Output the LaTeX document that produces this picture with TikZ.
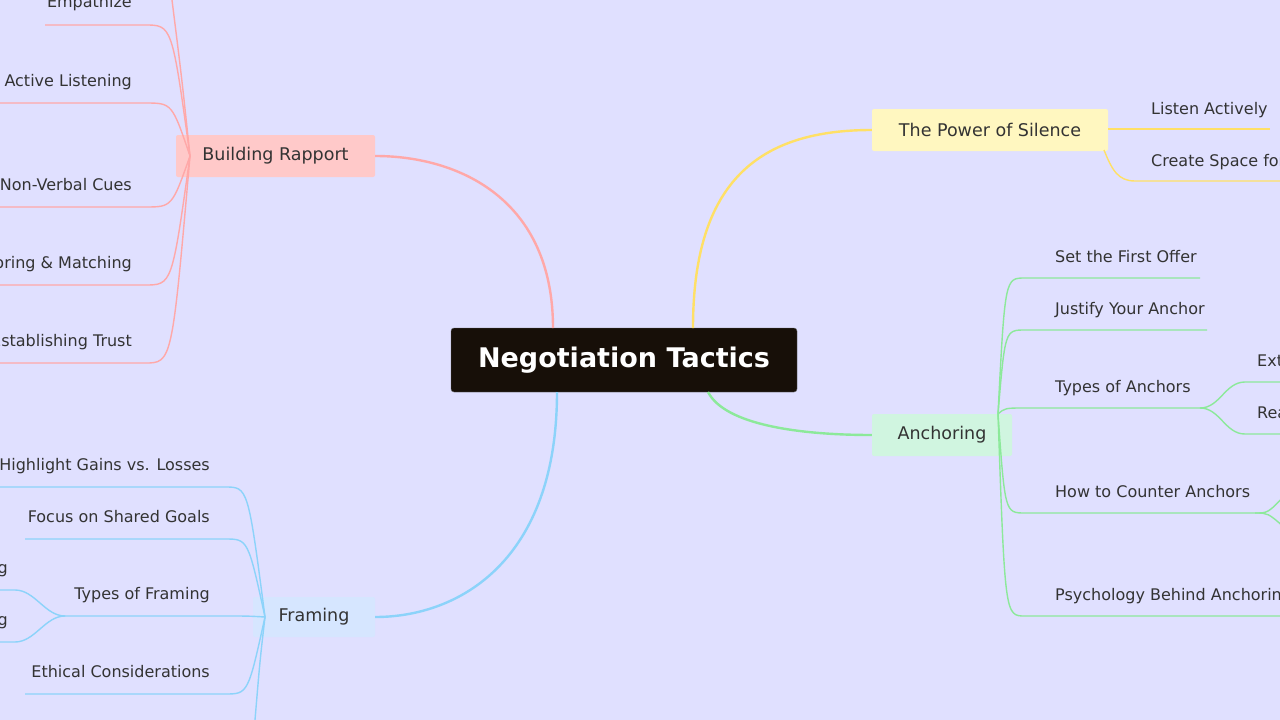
\documentclass[tikz,border=0pt]{standalone}
\usepackage{fontspec}
\setmainfont{DejaVu Sans}
\definecolor{bgc}{HTML}{E0E0FF}
\definecolor{rapc}{HTML}{FFA8A8}
\definecolor{rapf}{HTML}{FFC9C9}
\definecolor{frac}{HTML}{8CD3FA}
\definecolor{fraf}{HTML}{D6E6FF}
\definecolor{silc}{HTML}{FFE066}
\definecolor{silf}{HTML}{FFF7C0}
\definecolor{ancc}{HTML}{8CE99A}
\definecolor{ancf}{HTML}{D0F5E0}
\definecolor{txtc}{HTML}{333333}
\tikzset{
  topic/.style={rectangle, rounded corners=2pt, minimum height=42pt, inner xsep=0pt,
    font=\fontsize{17.5}{20}\selectfont, text=txtc},
  leaf/.style={inner sep=0pt, font=\fontsize{16}{18}\selectfont, text=txtc},
  branch/.style={line width=2.4pt},
  twig/.style={line width=1.4pt}
}
\begin{document}
\begin{tikzpicture}[x=1pt,y=-1pt]
\fill[bgc] (0,0) rectangle (1280,720);
\useasboundingbox (0,0) rectangle (1280,720);

\node[rectangle, rounded corners=3pt, fill=black!88!brown, draw=black!60, minimum width=346pt,
  minimum height=64pt, text=white, font=\bfseries\fontsize{27}{30}\selectfont] (nt) at (624,360) {Negotiation Tactics};

\node[topic, fill=rapf, minimum width=199pt] (br) at (275.5,156) {Building Rapport};
\node[topic, fill=fraf, minimum width=122pt, minimum height=40pt] (fr) at (314,617) {Framing};
\node[topic, fill=silf, minimum width=236pt] (ps) at (990,130) {The Power of Silence};
\node[topic, fill=ancf, minimum width=140pt] (an) at (942,435) {Anchoring};

\draw[branch, rapc] (553,328) .. controls (553,200) and (460,156) .. (br.east);
\draw[branch, frac] (557,392) .. controls (557,560) and (460,617) .. (fr.east);
\draw[branch, silc] (693,328) .. controls (693,180) and (760,130) .. (ps.west);
\draw[branch, ancc] (708,392) .. controls (725,425) and (800,435) .. (an.west);

% building rapport
\coordinate (brs) at (190,156);
\foreach \y/\xa/\t [count=\i] in {25/45/Empathize, 103/0/Active Listening, 207/0/Non-Verbal Cues,
    285/0/Mirroring \& Matching, 363/0/Establishing Trust}{
  \node[leaf, anchor=base east] (br\i) at (132,\y-17) {\t};
  \draw[twig, rapc] (brs) .. controls (172,\y) and (172,\y) .. (145,\y) -- (\xa,\y);
}
\draw[twig, rapc] (brs) .. controls (182,80) .. (172,0);

% framing
\coordinate (frs) at (265,617);
\foreach \y/\xa/\t [count=\i] in {487/0/Highlight Gains vs. Losses, 539/25/Focus on Shared Goals,
    616/65/Types of Framing, 694/25/Ethical Considerations}{
  \node[leaf, anchor=base east] (fr\i) at (210,\y-17) {\t};
  \draw[twig, frac] (frs) .. controls (248,\y) and (248,\y) .. (225,\y) -- (\xa,\y);
}
\draw[twig, frac] (frs) .. controls (260,660) .. (255,720);
\coordinate (tfs) at (65,616);
\foreach \y/\t [count=\i] in {590/Reframing, 642/Anchoring}{
  \node[leaf, anchor=base east] (tf\i) at (8,\y-17) {\t};
  \draw[twig, frac] (tfs) .. controls (45,616) and (35,\y) .. (15,\y) -- (-5,\y);
}

% power of silence
\node[leaf, anchor=base west] (ps1) at (1151,114) {Listen Actively};
\node[leaf, anchor=base west] (ps2) at (1151,166) {Create Space for Reflection};
\draw[twig, silc] (ps.east |- 0,129) -- (1270,129);
\draw[twig, silc] (1104,150) .. controls (1112,170) and (1118,181) .. (1135,181) -- (1285,181);

% anchoring
\coordinate (ans) at (998,414);
\foreach \y/\xb/\t [count=\i] in {278/1200/Set the First Offer, 330/1207/Justify Your Anchor,
    408/1200/Types of Anchors, 513/1255/How to Counter Anchors, 616/1285/Psychology Behind Anchoring}{
  \node[leaf, anchor=base west] (an\i) at (1055,\y-16) {\t};
  \draw[twig, ancc] (ans) .. controls (1005,\y) and (1005,\y) .. (1025,\y) -- (\xb,\y);
}
\coordinate (tas) at (1200,408);
\foreach \y/\t [count=\i] in {382/Extreme Anchors, 434/Realistic Anchors}{
  \node[leaf, anchor=base west] (ta\i) at (1257,\y-16) {\t};
  \draw[twig, ancc] (tas) .. controls (1220,408) and (1225,\y) .. (1245,\y) -- (1285,\y);
}
\coordinate (cas) at (1255,513);
\draw[twig, ancc] (cas) .. controls (1268,513) .. (1285,495);
\draw[twig, ancc] (cas) .. controls (1268,513) .. (1285,528);
\end{tikzpicture}
\end{document}
